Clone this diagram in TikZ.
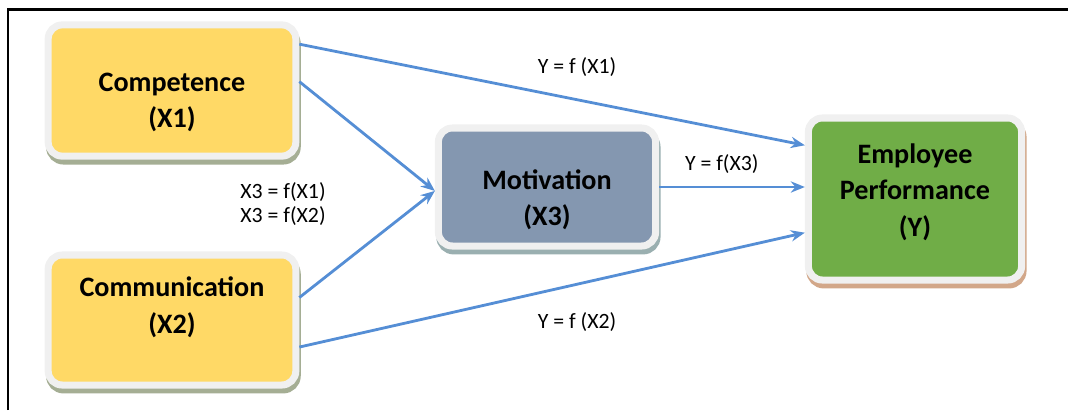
\documentclass[tikz,border=0pt]{standalone}
\usepackage{fontspec}
\setmainfont{Carlito}
\usetikzlibrary{arrows.meta,shadows}
\definecolor{GoldFill}{HTML}{FFD966}
\definecolor{SlateFill}{HTML}{8497B0}
\definecolor{LeafFill}{HTML}{70AD47}
\definecolor{RimGray}{HTML}{F0F0F0}
\definecolor{LinkBlue}{HTML}{558ED5}
\definecolor{OliveShade}{HTML}{A5AE94}
\definecolor{TealShade}{HTML}{9AAFB0}
\definecolor{TanShade}{HTML}{D2A789}

\begin{document}
\begin{tikzpicture}[x=0.025cm, y=-0.025cm,
    varbox/.style={rounded corners=10pt, draw=RimGray, line width=5pt,
      inner sep=0pt},
    boxtext/.style={font=\fontsize{20}{26}\selectfont\bfseries, align=center},
    link/.style={draw=LinkBlue, line width=2pt,
      -{Stealth[length=10pt,width=8pt]}},
    eq/.style={font=\fontsize{15.5}{16.5}\selectfont, align=center}]
  \useasboundingbox (0,0) rectangle (1068,410);

  % Frame
  \draw[line width=1.6pt] (8,410) -- (8,9.5) -- (1068,9.5);

  % Variables
  \node[varbox, fill=GoldFill, minimum width=6.19cm, minimum height=3.28cm,
    drop shadow={shadow xshift=1pt, shadow yshift=-3.5pt, fill=OliveShade,
      draw=OliveShade, line width=5pt, opacity=1},
    label={[boxtext, yshift=-8.5pt]center:Competence\\(X1)}]
    (comp) at (172,90.5) {};
  \node[varbox, fill=GoldFill, minimum width=6.19cm, minimum height=3.25cm,
    drop shadow={shadow xshift=1pt, shadow yshift=-3.5pt, fill=OliveShade,
      draw=OliveShade, line width=5pt, opacity=1},
    label={[boxtext, yshift=9pt]center:Communication\\(X2)}]
    (comm) at (172,320) {};
  \node[varbox, fill=SlateFill, minimum width=5.43cm, minimum height=2.95cm,
    drop shadow={shadow xshift=1pt, shadow yshift=-3.5pt, fill=TealShade,
      draw=TealShade, line width=5pt, opacity=1},
    label={[boxtext, yshift=-9pt]center:Motivation\\(X3)}]
    (mot) at (547,187) {};
  \node[varbox, fill=LeafFill, minimum width=5.33cm, minimum height=4.05cm,
    drop shadow={shadow xshift=1pt, shadow yshift=-3.5pt, fill=TanShade,
      draw=TanShade, line width=5pt, opacity=1},
    label={[boxtext, yshift=5pt]center:Employee\\Performance\\(Y)}]
    (emp) at (915,199) {};

  % Relations
  \draw[link] (comp.20) -- (emp.154.5);
  \draw[link] (comp.4) -- (mot.182);
  \draw[link] (comm.10) -- (mot.182);
  \draw[link] (comm.-12) -- (emp.197);
  \draw[link] (mot.east) -- (mot.east -| emp.west)
    node[eq, pos=0.43, above=5pt] (eqx3) {Y = f(X3)};

  % Equations
  \node[eq] (eqx1) at (577,67) {Y = f (X1)};
  \node[eq] (eqx2) at (577,322) {Y = f (X2)};
  \node[eq] (eqmot) at (283,204) {X3 = f(X1)\\X3 = f(X2)};
\end{tikzpicture}
\end{document}
